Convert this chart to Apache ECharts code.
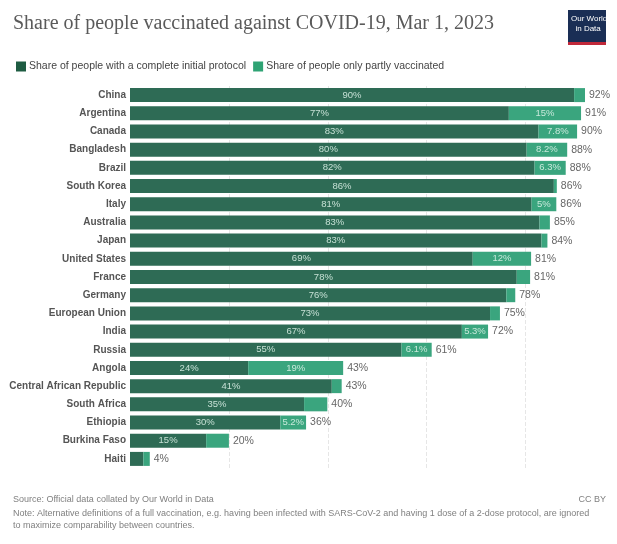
<!DOCTYPE html>
<html>
<head>
<meta charset="utf-8">
<script src="https://cdn.jsdelivr.net/npm/echarts@6/dist/echarts.min.js"></script>
<style>html,body{margin:0;padding:0;background:#fff;}#c{width:617px;height:544px;}</style>
</head>
<body>
<div id="c"></div>
<script>
const countries = ["China","Argentina","Canada","Bangladesh","Brazil","South Korea","Italy","Australia","Japan","United States","France","Germany","European Union","India","Russia","Angola","Central African Republic","South Africa","Ethiopia","Burkina Faso","Haiti"];
const complete = [89.8,76.6,82.6,80.2,81.8,85.7,81.2,82.8,83.2,69.3,78.2,76.1,72.8,67.1,54.9,23.9,40.8,35.2,30.4,15.4,2.7];
const partly   = [2.2,14.6,7.8,8.2,6.3,0.6,5.0,2.1,1.2,11.8,2.7,1.8,2.0,5.3,6.1,19.2,2.0,4.7,5.2,4.6,1.3];
const seriesNames = ["Share of people with a complete initial protocol","Share of people only partly vaccinated"];
const xTicks = [0,20,40,60,80];

const totals = complete.map((v,i)=>+(v+partly[i]).toFixed(2));
function fmt(v){ return (v>=10 ? Math.round(v) : Math.round(v*10)/10) + '%'; }

const chart = echarts.init(document.getElementById('c'), null, {renderer:'canvas'});
const sans = 'Liberation Sans, Arial, sans-serif';
chart.setOption({
  animation:false,
  backgroundColor:'#fff',
  title:[
    {text:'Share of people vaccinated against COVID-19, Mar 1, 2023', left:8, top:9,
     textStyle:{fontFamily:'Liberation Serif, DejaVu Serif, serif', fontWeight:'normal', fontSize:20, color:'#5a5a5a'}},
    {text:'Source: Official data collated by Our World in Data', left:8, top:490,
     textStyle:{fontFamily:sans, fontWeight:'normal', fontSize:9, color:'#808080'}},
    {text:'CC BY', right:6, top:490,
     textStyle:{fontFamily:sans, fontWeight:'normal', fontSize:9, color:'#808080'}},
    {text:'Note: Alternative definitions of a full vaccination, e.g. having been infected with SARS-CoV-2 and having 1 dose of a 2-dose protocol, are ignored\nto maximize comparability between countries.', left:8, top:503,
     textStyle:{fontFamily:sans, fontWeight:'normal', fontSize:9, lineHeight:12, color:'#808080'}}
  ],
  graphic:[
    {type:'rect', left:568, top:10, shape:{width:38,height:33}, style:{fill:'#1a2e55'}},
    {type:'rect', left:568, top:42, shape:{width:38,height:3}, style:{fill:'#c0283a'}},
    {type:'text', left:571, top:14, style:{text:'Our World\n  in Data', fill:'#fff', font:'8px '+sans, lineHeight:10}}
  ],
  legend:{
    left:11, top:56, itemWidth:10, itemHeight:10, itemGap:7, icon:'rect',
    textStyle:{fontFamily:sans, fontSize:10.5, color:'#444', padding:[0,0,0,-2]},
    data:[{name:seriesNames[0], itemStyle:{color:'#1e5c42'}},{name:seriesNames[1], itemStyle:{color:'#2fa374'}}],
    selectedMode:false
  },
  grid:{left:130, right:32, top:86, bottom:76},
  xAxis:{
    type:'value', min:0, max:92, interval:20,
    axisLabel:{show:false}, axisLine:{show:false}, axisTick:{show:false},
    splitLine:{show:true, showMaxLine:false, showMinLine:false, lineStyle:{color:'#e6e6e6', type:'dashed', width:1}}
  },
  yAxis:{
    type:'category', data:countries, inverse:true,
    axisLine:{show:false}, axisTick:{show:false},
    axisLabel:{fontFamily:sans, fontWeight:'bold', fontSize:10, color:'#555', margin:4}
  },
  series:[
    {name:seriesNames[0], type:'bar', stack:'s', data:complete, barWidth:14,
     itemStyle:{color:'#2e6b55'},
     label:{show:true, position:'inside', fontFamily:sans, fontSize:9.5, color:'rgba(225,245,235,0.85)',
       formatter:p=>p.value<5?'':fmt(p.value)}},
    {name:seriesNames[1], type:'bar', stack:'s', data:partly, barWidth:14,
     itemStyle:{color:'#3aa57e'},
     label:{show:true, position:'inside', fontFamily:sans, fontSize:9.5, color:'rgba(225,245,235,0.85)',
       formatter:p=>p.value<4.8?'':fmt(p.value)}},
    {name:'total', type:'bar', data:totals, barWidth:14, barGap:'-100%', z:1,
     itemStyle:{color:'rgba(0,0,0,0)'}, silent:true,
     label:{show:true, position:'right', distance:4, fontFamily:sans, fontSize:10.5, color:'#666',
       formatter:p=>fmt(p.value)}}
  ]
});
</script>
</body>
</html>
